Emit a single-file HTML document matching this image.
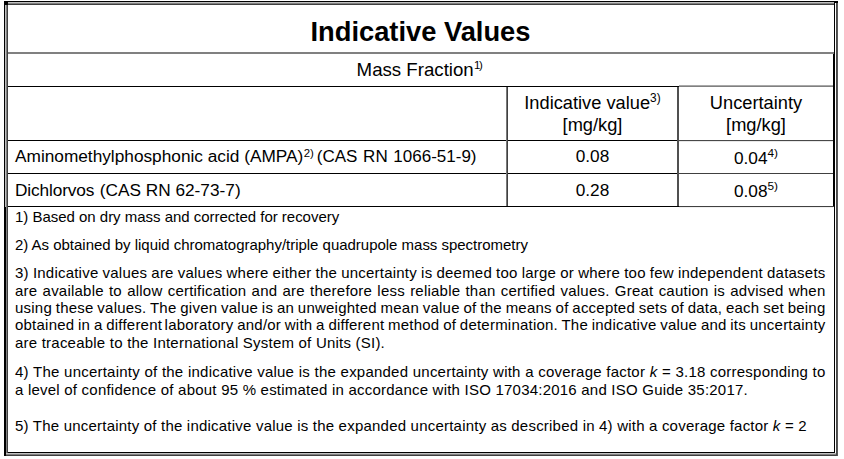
<!DOCTYPE html>
<html>
<head>
<meta charset="utf-8">
<title>Indicative Values</title>
<style>
html,body{margin:0;padding:0;background:#fff;}
body{width:844px;height:459px;position:relative;overflow:hidden;font-family:"Liberation Sans",sans-serif;color:#000;}
.l{position:absolute;}
.t{position:absolute;white-space:nowrap;line-height:1;}
.c{text-align:center;}
.b{font-size:17.25px;}
.h{font-size:18.25px;}
.f{font-size:15px;letter-spacing:0.22px;}
.f.n{letter-spacing:-0.02px;}
.j{left:15px;}
sup{font-size:0.64em;line-height:0;vertical-align:baseline;position:relative;top:-0.52em;}
</style>
</head>
<body>
<!-- outer border : top -->
<div class="l" style="left:4px;top:1px;width:834px;height:1px;background:#000"></div>
<div class="l" style="left:8px;top:2px;width:826px;height:1px;background:#c0c0c0"></div>
<div class="l" style="left:8px;top:3px;width:826px;height:1px;background:#808080"></div>
<div class="l" style="left:8px;top:4px;width:826px;height:1px;background:#404040"></div>
<div class="l" style="left:4px;top:1px;width:4px;height:4px;background:#000"></div>
<div class="l" style="left:834px;top:1px;width:4px;height:2px;background:#000"></div>
<!-- outer border : bottom -->
<div class="l" style="left:8px;top:452px;width:827px;height:1px;background:#000"></div>
<div class="l" style="left:6px;top:453px;width:832px;height:1px;background:#c0c0c0"></div>
<div class="l" style="left:6px;top:454px;width:832px;height:1px;background:#808080"></div>
<div class="l" style="left:4px;top:455px;width:834px;height:1px;background:#404040"></div>
<!-- outer border : left -->
<div class="l" style="left:4px;top:1px;width:1px;height:455px;background:#000"></div>
<div class="l" style="left:5px;top:5px;width:1px;height:202px;background:#c0c0c0"></div>
<div class="l" style="left:5px;top:207px;width:1px;height:249px;background:#000"></div>
<div class="l" style="left:6px;top:5px;width:1px;height:448px;background:#808080"></div>
<div class="l" style="left:7px;top:5px;width:1px;height:448px;background:#404040"></div>
<!-- outer border : right -->
<div class="l" style="left:834px;top:1px;width:1px;height:452px;background:#000"></div>
<div class="l" style="left:833px;top:53px;width:1px;height:154px;background:#000"></div>
<div class="l" style="left:836px;top:3px;width:1px;height:453px;background:#484848"></div>
<div class="l" style="left:837px;top:3px;width:1px;height:453px;background:#585858"></div>
<!-- inner horizontal lines -->
<div class="l" style="left:8px;top:52px;width:826px;height:2px;background:#808080"></div>
<div class="l" style="left:8px;top:86px;width:671px;height:1px;background:#000"></div>
<div class="l" style="left:679px;top:85px;width:154px;height:1px;background:#a8a8a8"></div>
<div class="l" style="left:679px;top:86px;width:154px;height:1px;background:#808080"></div>
<div class="l" style="left:8px;top:140px;width:671px;height:1px;background:#000"></div>
<div class="l" style="left:679px;top:140px;width:154px;height:1px;background:#484848"></div>
<div class="l" style="left:679px;top:141px;width:154px;height:1px;background:#e8e8e8"></div>
<div class="l" style="left:8px;top:173px;width:671px;height:1px;background:#000"></div>
<div class="l" style="left:679px;top:173px;width:154px;height:1px;background:#404040"></div>
<div class="l" style="left:8px;top:206px;width:671px;height:1px;background:#000"></div>
<div class="l" style="left:679px;top:206px;width:155px;height:1px;background:#404040"></div>
<div class="l" style="left:679px;top:207px;width:154px;height:1px;background:#f0f0f0"></div>
<!-- inner vertical lines -->
<div class="l" style="left:506px;top:87px;width:1px;height:119px;background:#787878"></div>
<div class="l" style="left:507px;top:87px;width:1px;height:119px;background:#404040"></div>
<div class="l" style="left:677px;top:87px;width:2px;height:119px;background:#505050"></div>

<!-- title -->
<div class="t c" id="title" style="left:8px;width:825px;top:18px;font-size:27.3px;font-weight:bold;">Indicative Values</div>
<div class="t" id="mf" style="left:356.6px;top:61px;font-size:18.67px;">Mass Fraction<sup style="font-size:11.4px;top:-7.3px;letter-spacing:-1.4px;margin-left:0.3px">1)</sup></div>
<!-- header cells -->
<div class="t c h" id="h21" style="left:508px;width:169px;top:94px;">Indicative value<sup style="font-size:11.9px;top:-6.7px">3)</sup></div>
<div class="t c h" id="h22" style="left:508px;width:169px;top:116.4px;">[mg/kg]</div>
<div class="t c h" id="h31" style="left:679px;width:154px;top:94px;">Uncertainty</div>
<div class="t c h" id="h32" style="left:679px;width:154px;top:116.4px;">[mg/kg]</div>
<!-- rows -->
<div class="t b" id="r1" style="left:15px;top:148px;">Aminomethylphosphonic acid (AMPA)<sup style="font-size:11.4px;top:-4.8px;margin-left:0.5px">2)</sup> <span style="font-size:17.02px;margin-left:-1.9px;word-spacing:0.9px">(CAS RN 1066-51-9)</span></div>
<div class="t c b" id="r1v" style="left:508px;width:169px;top:148px;">0.08</div>
<div class="t c b" id="r1u" style="left:679px;width:154px;top:150px;">0.04<sup style="font-size:11.8px;top:-7px">4)</sup></div>
<div class="t b" id="r2" style="left:15px;top:182px;"><span style="letter-spacing:-0.12px">Dichlorvos</span><span style="margin-left:0.6px"> (CAS RN 62-73-7)</span></div>
<div class="t c b" id="r2v" style="left:508px;width:169px;top:182px;">0.28</div>
<div class="t c b" id="r2u" style="left:679px;width:154px;top:183px;">0.08<sup style="font-size:11.8px;top:-7px">5)</sup></div>
<!-- footnotes -->
<div class="t f n" id="f1" style="left:15px;top:209px;">1) Based on dry mass and corrected for recovery</div>
<div class="t f n" id="f2" style="left:15px;top:237px;">2) As obtained by liquid chromatography/triple quadrupole mass spectrometry</div>
<div class="t f j" id="f3a" style="top:265px;word-spacing:-0.284px;">3) Indicative values are values where either the uncertainty is deemed too large or where too few independent datasets</div>
<div class="t f j" id="f3b" style="top:283px;word-spacing:0.84px;">are available to allow certification and are therefore less reliable than certified values. Great caution is advised when</div>
<div class="t f j" id="f3c" style="top:300px;word-spacing:-0.579px;">using these values. The given value is an unweighted mean value of the means of accepted sets of data, each set being</div>
<div class="t f j" id="f3d" style="top:317px;word-spacing:-0.645px;">obtained in a different<span style="word-spacing:-1.95px"> </span>laboratory and/or with a different method of determination. The indicative value and its uncertainty</div>
<div class="t f" id="f3e" style="left:15px;top:335px;">are traceable to the International System of Units (SI).</div>
<div class="t f j" id="f4a" style="top:364px;word-spacing:0.15px;">4) The uncertainty of the indicative value is the expanded uncertainty with a coverage factor <i>k</i> = 3.18 corresponding to</div>
<div class="t f" id="f4b" style="left:15px;top:382px;">a level of confidence of about 95 % estimated in accordance with ISO 17034:2016 and ISO Guide 35:2017.</div>
<div class="t f" id="f5" style="left:15px;top:418px;word-spacing:-0.07px;">5) The uncertainty of the indicative value is the expanded uncertainty as described in 4) with a coverage factor <i>k</i> = 2</div>
</body>
</html>
